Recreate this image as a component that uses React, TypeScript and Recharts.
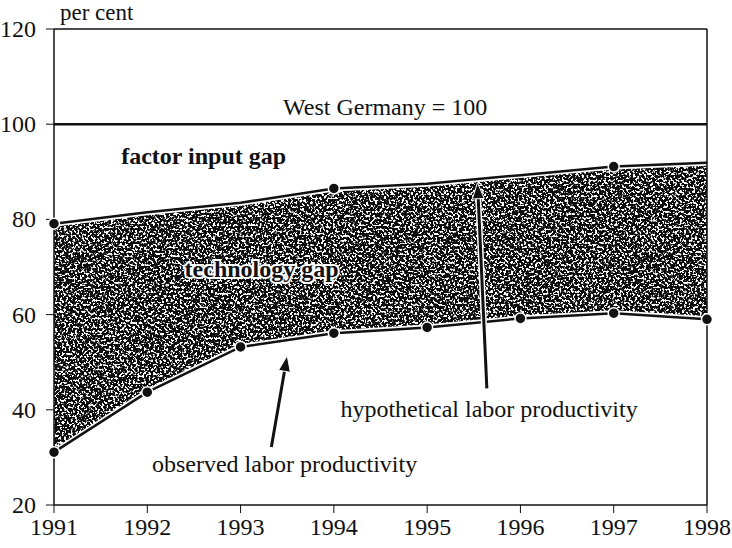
import { Area, ComposedChart, Line, ReferenceDot, ReferenceLine, XAxis, YAxis } from "recharts"

const years = [1991, 1992, 1993, 1994, 1995, 1996, 1997, 1998]
const observed = [31.1, 43.7, 53.2, 56.1, 57.3, 59.2, 60.3, 59.0]
const hypothetical = [79.1, 81.5, 83.5, 86.5, 87.5, 89.3, 91.1, 91.9]
const markedHypo = [1991, 1994, 1997]
const yTicks = [20, 40, 60, 80, 100, 120]

const data = years.map((year, i) => ({ year, observed: observed[i], hypothetical: hypothetical[i] }))

const serif = "Liberation Serif, Times New Roman, serif"

const textAt = (label: string, anchor: string, size = 24, bold = false, halo = false) => (props: any) => (
    <text
        x={props.cx}
        y={props.cy}
        textAnchor={anchor}
        fontFamily={serif}
        fontSize={size}
        fontWeight={bold ? "bold" : "normal"}
        fill="#111"
        stroke={halo ? "#fff" : "none"}
        strokeWidth={halo ? 4 : 0}
        style={{ paintOrder: "stroke" }}
    >
        {label}
    </text>
)

const XTick = (props: any) => (
    <text x={props.x} y={props.y} dy={18} textAnchor="middle" fontFamily={serif} fontSize={24} fill="#111">
        {props.payload.value}
    </text>
)

const YTick = (props: any) => (
    <text x={props.x} y={props.y} dy={8} textAnchor="end" fontFamily={serif} fontSize={24} fill="#111">
        {props.payload.value}
    </text>
)

const arrowShape = (props: any) => {
    const { x1, y1, x2, y2 } = props
    const ang = Math.atan2(y2 - y1, x2 - x1)
    const len = 16
    const w = 6
    const bx = x2 - len * Math.cos(ang)
    const by = y2 - len * Math.sin(ang)
    const px = -Math.sin(ang) * w
    const py = Math.cos(ang) * w
    return (
        <g>
            <line x1={x1} y1={y1} x2={bx} y2={by} stroke="#fff" strokeWidth={6} />
            <line x1={x1} y1={y1} x2={bx} y2={by} stroke="#111" strokeWidth={3} />
            <polygon points={`${x2},${y2} ${bx + px},${by + py} ${bx - px},${by - py}`} fill="#111" stroke="#fff" strokeWidth={1} />
        </g>
    )
}

export default function App() {
    return (
        <div style={{ position: "absolute", left: 0, top: 0, fontFamily: serif }}>
            <ComposedChart width={732} height={548} data={data} margin={{ top: 29, right: 25, left: 0, bottom: 0 }}>
                <defs>
                    <filter id="speck" x="0" y="0" width="100%" height="100%">
                        <feTurbulence type="fractalNoise" baseFrequency="0.45" numOctaves="2" seed="7" result="noise" />
                        <feColorMatrix in="noise" type="matrix" values="0 0 0 0 1  0 0 0 0 1  0 0 0 0 1  -12 0 0 0 5.75" result="specks" />
                        <feComposite in="specks" in2="SourceGraphic" operator="in" />
                    </filter>
                    <pattern id="stipple" patternUnits="userSpaceOnUse" width={732} height={548}>
                        <rect width={732} height={548} fill="#0c0c0c" />
                        <rect width={732} height={548} fill="#fff" filter="url(#speck)" />
                    </pattern>
                </defs>
                <XAxis
                    dataKey="year"
                    type="number"
                    domain={[1991, 1998]}
                    ticks={years}
                    height={43}
                    axisLine={{ stroke: "#111", strokeWidth: 1.5 }}
                    tickLine={{ stroke: "#111" }}
                    tickSize={8}
                    tickMargin={4}
                    tick={XTick}
                />
                <YAxis
                    domain={[20, 120]}
                    ticks={yTicks}
                    width={54}
                    axisLine={{ stroke: "#111", strokeWidth: 1.5 }}
                    tickLine={{ stroke: "#111" }}
                    tickSize={8}
                    tickMargin={10}
                    tick={YTick}
                />
                <ReferenceLine y={120} stroke="#111" strokeWidth={1.5} />
                <ReferenceLine x={1998} stroke="#111" strokeWidth={1.5} />
                <ReferenceLine y={100} stroke="#111" strokeWidth={2.5} />
                <Area
                    dataKey={(d: any) => [d.observed, d.hypothetical]}
                    type="linear"
                    stroke="#fff"
                    strokeWidth={6}
                    fill="url(#stipple)"
                    fillOpacity={1}
                    isAnimationActive={false}
                />
                <Line
                    dataKey="hypothetical"
                    type="linear"
                    stroke="#111"
                    strokeWidth={2.5}
                    isAnimationActive={false}
                    dot={(p: any) =>
                        markedHypo.includes(p.payload.year) ? (
                            <circle key={p.index} cx={p.cx} cy={p.cy} r={5.5} fill="#111" stroke="#fff" strokeWidth={1.5} />
                        ) : (
                            <g key={p.index} />
                        )
                    }
                />
                <Line
                    dataKey="observed"
                    type="linear"
                    stroke="#111"
                    strokeWidth={2.5}
                    isAnimationActive={false}
                    dot={{ r: 5.5, fill: "#111", stroke: "#fff", strokeWidth: 1.5 }}
                />
                <ReferenceLine segment={[{ x: 1993.33, y: 32.2 }, { x: 1993.5, y: 51.4 }]} shape={arrowShape} />
                <ReferenceLine segment={[{ x: 1995.64, y: 44.5 }, { x: 1995.54, y: 87.7 }]} shape={arrowShape} />
                <ReferenceDot x={1991} y={120} ifOverflow="visible" shape={(p: any) => textAt("per cent", "start", 23)({ cx: p.cx + 6, cy: p.cy - 9 })} />
                <ReferenceDot x={1994.55} y={102} shape={textAt("West Germany = 100", "middle")} />
                <ReferenceDot x={1991.72} y={91.7} shape={textAt("factor input gap", "start", 24, true)} />
                <ReferenceDot x={1992.4} y={68} shape={textAt("technology gap", "start", 24, true, true)} />
                <ReferenceDot x={1994.07} y={38.4} shape={textAt("hypothetical labor productivity", "start")} />
                <ReferenceDot x={1992.05} y={26.9} shape={textAt("observed labor productivity", "start")} />
            </ComposedChart>
        </div>
    )
}
